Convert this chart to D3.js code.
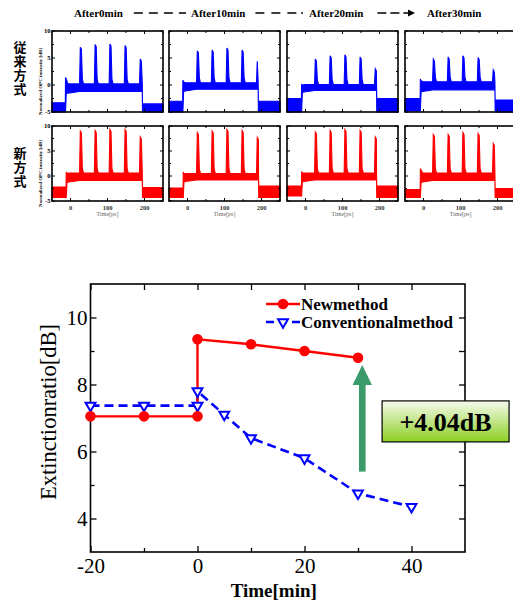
<!DOCTYPE html>
<html>
<head>
<meta charset="utf-8">
<script src="https://cdn.jsdelivr.net/npm/d3@7"></script>
<style>
body { margin: 0; background: #fff; }
svg { display: block; }
</style>
</head>
<body>
<script>
// ---------- data: waveform panels ----------
const stages = ['After0min', 'After10min', 'After20min', 'After30min'];
const rowLabels = ['従来方式', '新方式'];
const pulseTimes = [28, 68, 108, 149, 190];           // ps
const bluePeaks = [[7.0, 7.5, 7.6, 7.3, 4.8], [6.35, 6.5, 6.85, 6.5, 4.4], [4.8, 5.4, 5.6, 5.2, 3.0], [4.8, 5.2, 5.4, 5.1, 2.8]];
const redPeaks = [[9.0, 9.1, 9.3, 9.3, 7.8], [8.7, 9.0, 9.3, 9.1, 7.7], [8.8, 9.1, 9.3, 9.1, 7.8], [8.3, 8.3, 8.7, 8.5, 6.5]];
// [rise ps, fall ps, overshoot dB]
const blueEdges = [[-14, 194, 1.4], [-13, 191, 0.9], [-11, 192, 0.2], [-9, 193, 1.1]];
const redEdges = [[-12, 194, 0.8], [-12, 192, 0.8], [-11, 192, 0.9], [-9, 193, 1.5]];
// noise bands [lo, hi] dB : before / on / after
const blueBands = [
    [[-5, -3.3], [-1.2, 0.2], [-5, -3.5]],
    [[-5, -3.0], [-0.8, 0.4], [-4.9, -3.0]],
    [[-5, -2.5], [-1.0, 0.1], [-5, -2.5]],
    [[-4.8, -2.5], [-0.9, 0.6], [-5, -2.8]]
];
const redBands = [
    [[-4.3, -2.2], [-0.9, 0.6], [-4.3, -2.3]],
    [[-4.3, -2.4], [-0.8, 0.5], [-4.3, -2.0]],
    [[-4.0, -2.0], [-0.8, 0.6], [-4.3, -2.0]],
    [[-4.3, -2.7], [-0.9, 0.6], [-4.3, -2.5]]
];

// ---------- data: extinction ratio ----------
const newTime = [-20, -10, 0, 0, 10, 20, 30];
const newER = [7.05, 7.05, 7.05, 9.35, 9.2, 9.0, 8.8];
const convTime = [-20, -10, 0, 0, 5, 10, 20, 30, 40];
const convER = [7.37, 7.37, 7.37, 7.8, 7.1, 6.4, 5.8, 4.75, 4.35];
const xMajor = [-20, 0, 20, 40];
const xMinor = [-10, 10, 30];
const yMajor = [4, 6, 8, 10];
const yMinor = [5, 7, 9];
const gainLabel = '+4.04dB';

const W = 513, H = 606;
const svg = d3.select('body').append('svg').attr('width', W).attr('height', H);
const serif = '"Liberation Serif", "Times New Roman", serif';

// ================= top: waveforms =================
const colLeft = [52, 169, 287, 405];
const panelW = 111;
const rows = [{ top: 31, h: 81, color: '#0000ff', peaks: bluePeaks, edges: blueEdges, bands: blueBands, labelY: 69 },
              { top: 126, h: 75, color: '#ff0000', peaks: redPeaks, edges: redEdges, bands: redBands, labelY: 168 }];

function envelope(peaks, edge, band) {
    const [rise, fall, over] = edge;
    const [b, m, a] = band;
    let pts = [[-50, b[0], b[1]], [rise, b[0], b[1]], [rise + 0.5, b[0], over], [rise + 2.5, m[0] - 0.4, over - 0.3], [rise + 7, m[0] - 0.3, m[1]]];
    pulseTimes.forEach((t, i) => {
        pts.push([t - 3.5, m[0], m[1]], [t - 1.5, m[0], peaks[i]], [t + 1.5, m[0], peaks[i] - 0.4], [t + 4, m[0], m[1] + 0.9], [t + 7, m[0], m[1]]);
    });
    pts = pts.filter(p => p[0] < fall);
    pts.push([fall, m[0], m[1]], [fall + 0.6, a[0], a[1]], [250, a[0], a[1]]);
    return pts;
}

rows.forEach((row, r) => {
    const y = d3.scaleLinear().domain([-5, 10]).range([row.top + row.h, row.top]);
    stages.forEach((s, c) => {
        const x = d3.scaleLinear().domain([-50, 250]).range([colLeft[c], colLeft[c] + panelW]);
        const g = svg.append('g');
        const area = d3.area().x(d => x(d[0])).y0(d => y(d[1])).y1(d => y(d[2]));
        g.append('path')
            .attr('d', area(envelope(row.peaks[c], row.edges[c], row.bands[c])))
            .attr('fill', row.color)
            .attr('stroke', row.color)
            .attr('stroke-width', 1.1);

        // ticks (inward, all four sides)
        const xt = d3.range(-50, 251, 50);
        const yt = d3.range(-5, 10.1, 2.5);
        xt.forEach(v => {
            const len = v % 100 === 0 ? 3 : 2;
            g.append('line').attr('x1', x(v)).attr('x2', x(v)).attr('y1', row.top + row.h).attr('y2', row.top + row.h - len).attr('stroke', '#000');
            g.append('line').attr('x1', x(v)).attr('x2', x(v)).attr('y1', row.top).attr('y2', row.top + len).attr('stroke', '#000');
        });
        yt.forEach(v => {
            const len = v % 5 === 0 ? 3 : 2;
            g.append('line').attr('x1', colLeft[c]).attr('x2', colLeft[c] + len).attr('y1', y(v)).attr('y2', y(v)).attr('stroke', '#000');
            g.append('line').attr('x1', colLeft[c] + panelW).attr('x2', colLeft[c] + panelW - len).attr('y1', y(v)).attr('y2', y(v)).attr('stroke', '#000');
        });
        g.append('rect')
            .attr('x', colLeft[c]).attr('y', row.top)
            .attr('width', panelW).attr('height', row.h)
            .attr('fill', 'none').attr('stroke', '#000').attr('stroke-width', 1.6);

        if (c === 0) {
            [-5, 0, 5, 10].forEach(v => {
                g.append('text').attr('x', colLeft[c] - 1.5).attr('y', y(v)).attr('dy', '0.32em')
                    .attr('text-anchor', 'end').attr('font-family', serif).attr('font-weight', 'bold')
                    .attr('font-size', 6.5).text(String(v));
            });
            g.append('text')
                .attr('transform', `translate(${colLeft[c] - 10},${row.top + row.h / 2 + 10}) rotate(-90)`)
                .attr('text-anchor', 'middle').attr('font-family', serif).attr('font-weight', 'bold')
                .attr('font-size', 5).text('Normalized OPC intensity [dB]');
        }
        if (r === 1) {
            [0, 100, 200].forEach(v => {
                g.append('text').attr('x', x(v)).attr('y', row.top + row.h + 8.5)
                    .attr('text-anchor', 'middle').attr('font-family', serif).attr('font-weight', 'bold')
                    .attr('font-size', 6.5).attr('fill', '#333').text(String(v));
            });
            g.append('text').attr('x', x(100)).attr('y', row.top + row.h + 15)
                .attr('text-anchor', 'middle').attr('font-family', serif)
                .attr('font-size', 6).attr('fill', '#666').text('Time[ps]');
        }
    });

    // vertical Japanese row label (single text, vertical writing mode)
    svg.append('text')
        .attr('x', 20).attr('y', row.labelY)
        .attr('text-anchor', 'middle')
        .style('writing-mode', 'vertical-rl')
        .style('letter-spacing', '1px')
        .attr('font-family', '"Noto Sans CJK JP", sans-serif').attr('font-weight', 'bold')
        .attr('font-size', 13).text(rowLabels[r]);
});

// header: stage names joined by dashed connectors
const headerY = 16.5;
const stageText = stages.map((s, i) => svg.append('text')
    .attr('x', colLeft[i] + 22).attr('y', headerY)
    .attr('font-family', serif).attr('font-weight', 'bold').attr('font-size', 11).text(s));
const textEnd = i => colLeft[i] + 22 + stageText[i].node().getComputedTextLength();
const connY = headerY - 3.5;
// 1: dashes
svg.append('line').attr('x1', textEnd(0) + 11).attr('x2', colLeft[1] + 17).attr('y1', connY).attr('y2', connY)
    .attr('stroke', '#000').attr('stroke-width', 1.3).attr('stroke-dasharray', '9,6');
// 2: dashes ending in a dot
svg.append('line').attr('x1', textEnd(1) + 10).attr('x2', colLeft[2] + 10).attr('y1', connY).attr('y2', connY)
    .attr('stroke', '#000').attr('stroke-width', 1.3).attr('stroke-dasharray', '9,7');
svg.append('circle').attr('cx', colLeft[2] + 15).attr('cy', connY).attr('r', 0.9).attr('fill', '#000');
// 3: dashes ending in an arrow
const arrowTip = colLeft[3] + 10;
svg.append('line').attr('x1', textEnd(2) + 14).attr('x2', arrowTip - 4).attr('y1', connY).attr('y2', connY)
    .attr('stroke', '#000').attr('stroke-width', 1.3).attr('stroke-dasharray', '9,4');
svg.append('path')
    .attr('d', `M${arrowTip},${connY} L${arrowTip - 7},${connY - 3.5} L${arrowTip - 7},${connY + 3.5} Z`)
    .attr('fill', '#000');

// ================= bottom: extinction ratio =================
const x = d3.scaleLinear().domain([-20, 50]).range([90.5, 465]);
const y = d3.scaleLinear().domain([3, 11]).range([552, 284]);

const fmt = d => String(d);
const axG = svg.append('g').attr('font-family', serif);
function styleAxis(sel) {
    sel.select('.domain').remove();
    sel.selectAll('.tick line').attr('stroke', '#000').attr('stroke-width', 1.3);
    sel.selectAll('.tick text').attr('font-family', serif).attr('font-size', 21).attr('fill', '#000');
}
axG.append('g').attr('transform', `translate(0,${y(3)})`)
    .call(d3.axisBottom(x).tickValues(xMajor).tickSize(-6).tickPadding(6).tickFormat(fmt)).call(styleAxis);
axG.append('g').attr('transform', `translate(0,${y(3)})`)
    .call(d3.axisBottom(x).tickValues(xMinor).tickSize(-4).tickFormat('')).call(styleAxis);
axG.append('g').attr('transform', `translate(0,${y(11)})`)
    .call(d3.axisTop(x).tickValues(xMajor.concat(xMinor)).tickSize(-6).tickFormat('')).call(styleAxis);
axG.append('g').attr('transform', `translate(${x(-20)},0)`)
    .call(d3.axisLeft(y).tickValues(yMajor).tickSize(-6).tickPadding(3).tickFormat(fmt)).call(styleAxis);
axG.append('g').attr('transform', `translate(${x(-20)},0)`)
    .call(d3.axisLeft(y).tickValues(yMinor).tickSize(-4).tickFormat('')).call(styleAxis);
axG.append('g').attr('transform', `translate(${x(50)},0)`)
    .call(d3.axisRight(y).tickValues(yMajor.concat(yMinor)).tickSize(-6).tickFormat('')).call(styleAxis);

svg.append('rect')
    .attr('x', x(-20)).attr('y', y(11))
    .attr('width', x(50) - x(-20)).attr('height', y(3) - y(11))
    .attr('fill', 'none').attr('stroke', '#000').attr('stroke-width', 1.6);

svg.append('text')
    .attr('x', (x(-20) + x(50)) / 2 - 4).attr('y', 597)
    .attr('text-anchor', 'middle').attr('font-family', serif).attr('font-weight', 'bold')
    .attr('font-size', 19).text('Time[min]');
svg.append('text')
    .attr('transform', `translate(56,${(y(3) + y(11)) / 2 - 6}) rotate(-90)`)
    .attr('text-anchor', 'middle').attr('font-family', serif)
    .attr('font-size', 22.5).text('Extinctionratio[dB]');

const line = d3.line().x(d => x(d[0])).y(d => y(d[1]));
const newPts = newTime.map((t, i) => [t, newER[i]]);
const convPts = convTime.map((t, i) => [t, convER[i]]);

svg.append('path').attr('d', line(convPts))
    .attr('fill', 'none').attr('stroke', '#0000ff').attr('stroke-width', 2.6).attr('stroke-dasharray', '9,5');
svg.append('path').attr('d', line(newPts))
    .attr('fill', 'none').attr('stroke', '#ff0000').attr('stroke-width', 2.4);

const tri = d3.symbol().type(d3.symbolTriangle).size(42);
function drawTri(sel, cx, cy) {
    sel.append('path').attr('d', tri())
        .attr('transform', `translate(${cx},${cy}) rotate(180)`)
        .attr('fill', '#fff').attr('stroke', '#0000ff').attr('stroke-width', 2);
}
convPts.forEach(p => drawTri(svg, x(p[0]), y(p[1])));
svg.selectAll('circle.np').data(newPts).join('circle').attr('class', 'np')
    .attr('cx', d => x(d[0])).attr('cy', d => y(d[1])).attr('r', 5.3).attr('fill', '#ff0000');

// legend
const lg = svg.append('g').attr('font-family', serif).attr('font-weight', 'bold').attr('font-size', 17);
lg.append('line').attr('x1', 266).attr('x2', 300).attr('y1', 304).attr('y2', 304)
    .attr('stroke', '#ff0000').attr('stroke-width', 2.4);
lg.append('circle').attr('cx', 283).attr('cy', 304).attr('r', 5.3).attr('fill', '#ff0000');
lg.append('text').attr('x', 301).attr('y', 310).text('Newmethod');
lg.append('line').attr('x1', 266).attr('x2', 300).attr('y1', 322).attr('y2', 322)
    .attr('stroke', '#0000ff').attr('stroke-width', 2.6).attr('stroke-dasharray', '8,5');
drawTri(lg, 283, 322);
lg.append('text').attr('x', 301).attr('y', 328).text('Conventionalmethod');

// improvement arrow
const arrowX = x(30.8);
const tipY = y(8.58), baseY = y(5.4);
svg.append('rect').attr('x', arrowX - 3.3).attr('y', tipY + 18).attr('width', 6.6).attr('height', baseY - tipY - 18)
    .attr('fill', '#3a9a6a');
svg.append('path')
    .attr('d', `M${arrowX},${tipY} L${arrowX + 9.7},${tipY + 20} L${arrowX - 9.7},${tipY + 20} Z`)
    .attr('fill', '#3a9a6a');

// gain box
const defs = svg.append('defs');
const grad = defs.append('linearGradient').attr('id', 'gainGrad').attr('x1', 0).attr('y1', 0).attr('x2', 0).attr('y2', 1);
grad.append('stop').attr('offset', '0%').attr('stop-color', '#f6fbec');
grad.append('stop').attr('offset', '100%').attr('stop-color', '#8ccf22');
const bx = x(34.5), by = y(7.51);
svg.append('rect').attr('x', bx).attr('y', by).attr('width', 127).attr('height', 41)
    .attr('fill', 'url(#gainGrad)').attr('stroke', '#000').attr('stroke-width', 1.2);
svg.append('text').attr('x', bx + 63.5).attr('y', by + 30)
    .attr('text-anchor', 'middle').attr('font-family', serif).attr('font-weight', 'bold')
    .attr('font-size', 26).text(gainLabel);
</script>
</body>
</html>
